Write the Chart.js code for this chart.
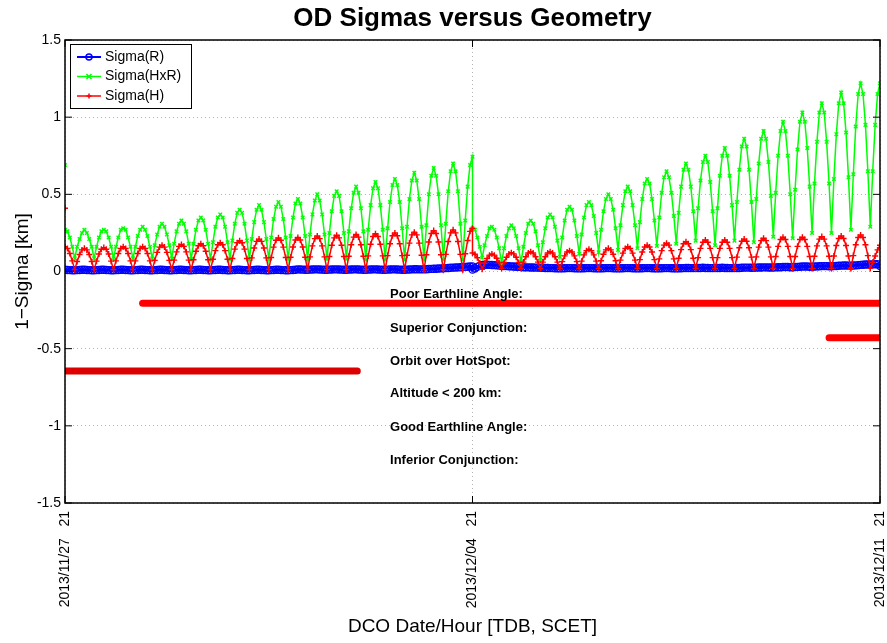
<!DOCTYPE html>
<html>
<head>
<meta charset="utf-8">
<title>OD Sigmas versus Geometry</title>
<script src="https://cdn.jsdelivr.net/npm/chart.js@4.4.1/dist/chart.umd.min.js"></script>
<style>
  html, body { margin: 0; padding: 0; background: #fff; }
  #chart { display: block; }
</style>
</head>
<body>
<canvas id="chart" width="887" height="643"></canvas>
<script>
// hours after 2013/11/27 21:00, hourly samples; t=0 is doubled (isolated first value)
// and so is t=168 (the jump in the middle of the arc)
const hours = [0, 0]
  .concat(Array.from({ length: 169 }, (_, i) => i))
  .concat(Array.from({ length: 169 }, (_, i) => 168 + i));

const xTickHours = [0, 168, 336];
const xTickLabels = ["2013/11/27   21", "2013/12/04   21", "2013/12/11   21"];

// Sigma(HxR) [km], one line per 8 h orbit
const sigmaHxR = [
  0.69, null,
  0.27, 0.26, 0.22, 0.16, 0.085, 0.16, 0.21, 0.25,
  0.27, 0.25, 0.21, 0.16, 0.085, 0.16, 0.22, 0.26,
  0.27, 0.26, 0.22, 0.16, 0.085, 0.16, 0.22, 0.27,
  0.28, 0.27, 0.22, 0.16, 0.085, 0.16, 0.23, 0.27,
  0.29, 0.27, 0.23, 0.16, 0.085, 0.17, 0.24, 0.29,
  0.31, 0.29, 0.24, 0.17, 0.085, 0.18, 0.26, 0.31,
  0.33, 0.31, 0.26, 0.18, 0.08, 0.18, 0.27, 0.33,
  0.35, 0.33, 0.27, 0.18, 0.08, 0.19, 0.29, 0.35,
  0.37, 0.35, 0.29, 0.19, 0.08, 0.2, 0.31, 0.38,
  0.4, 0.38, 0.31, 0.2, 0.08, 0.21, 0.32, 0.4,
  0.43, 0.4, 0.32, 0.21, 0.08, 0.22, 0.34, 0.42,
  0.45, 0.42, 0.34, 0.22, 0.08, 0.23, 0.35, 0.44,
  0.47, 0.44, 0.35, 0.23, 0.08, 0.24, 0.37, 0.46,
  0.5, 0.46, 0.37, 0.24, 0.08, 0.25, 0.39, 0.49,
  0.52, 0.49, 0.39, 0.25, 0.08, 0.26, 0.41, 0.51,
  0.55, 0.51, 0.41, 0.26, 0.075, 0.27, 0.43, 0.54,
  0.58, 0.54, 0.43, 0.27, 0.075, 0.28, 0.45, 0.56,
  0.6, 0.56, 0.45, 0.28, 0.075, 0.29, 0.47, 0.59,
  0.64, 0.59, 0.47, 0.29, 0.075, 0.3, 0.5, 0.62,
  0.67, 0.62, 0.5, 0.3, 0.075, 0.31, 0.52, 0.65,
  0.7, 0.65, 0.52, 0.31, 0.075, 0.33, 0.55, 0.69,
  0.744, 0.28, 0.27, 0.22, 0.16, 0.09, 0.17, 0.23, 0.28,
  0.29, 0.27, 0.22, 0.15, 0.055, 0.15, 0.23, 0.28,
  0.3, 0.28, 0.23, 0.15, 0.06, 0.16, 0.25, 0.31,
  0.33, 0.31, 0.26, 0.17, 0.075, 0.19, 0.28, 0.35,
  0.37, 0.35, 0.29, 0.2, 0.095, 0.22, 0.33, 0.4,
  0.42, 0.4, 0.33, 0.23, 0.115, 0.24, 0.35, 0.43,
  0.45, 0.43, 0.36, 0.25, 0.125, 0.27, 0.39, 0.47,
  0.5, 0.47, 0.4, 0.28, 0.14, 0.3, 0.43, 0.52,
  0.55, 0.52, 0.43, 0.3, 0.15, 0.32, 0.47, 0.57,
  0.6, 0.57, 0.47, 0.33, 0.165, 0.35, 0.51, 0.61,
  0.65, 0.61, 0.51, 0.36, 0.18, 0.38, 0.55, 0.66,
  0.7, 0.66, 0.55, 0.39, 0.2, 0.41, 0.59, 0.71,
  0.75, 0.71, 0.58, 0.39, 0.17, 0.41, 0.62, 0.75,
  0.8, 0.75, 0.62, 0.43, 0.2, 0.45, 0.66, 0.81,
  0.86, 0.81, 0.66, 0.45, 0.19, 0.47, 0.7, 0.86,
  0.91, 0.86, 0.71, 0.49, 0.225, 0.51, 0.75, 0.91,
  0.97, 0.91, 0.75, 0.5, 0.215, 0.53, 0.79, 0.97,
  1.03, 0.97, 0.8, 0.55, 0.25, 0.57, 0.84, 1.03,
  1.09, 1.03, 0.84, 0.57, 0.25, 0.6, 0.89, 1.09,
  1.16, 1.09, 0.9, 0.61, 0.27, 0.63, 0.94, 1.15,
  1.22, 1.15, 0.95, 0.65, 0.29, 0.65, 0.95, 1.15,
  1.22
];

// Sigma(H) [km]
const sigmaH = [
  0.41, null,
  0.16, 0.149, 0.117, 0.069, 0.012, 0.065, 0.11, 0.14,
  0.15, 0.14, 0.11, 0.065, 0.012, 0.067, 0.113, 0.144,
  0.155, 0.144, 0.113, 0.067, 0.012, 0.069, 0.117, 0.149,
  0.16, 0.149, 0.117, 0.069, 0.012, 0.069, 0.117, 0.149,
  0.16, 0.149, 0.117, 0.069, 0.012, 0.072, 0.124, 0.158,
  0.17, 0.158, 0.124, 0.072, 0.012, 0.074, 0.127, 0.163,
  0.175, 0.163, 0.127, 0.074, 0.012, 0.076, 0.131, 0.167,
  0.18, 0.167, 0.131, 0.076, 0.012, 0.079, 0.135, 0.173,
  0.186, 0.173, 0.135, 0.079, 0.012, 0.084, 0.145, 0.186,
  0.2, 0.186, 0.145, 0.084, 0.012, 0.088, 0.152, 0.195,
  0.21, 0.195, 0.152, 0.088, 0.012, 0.091, 0.158, 0.202,
  0.218, 0.202, 0.158, 0.091, 0.012, 0.092, 0.159, 0.204,
  0.22, 0.204, 0.159, 0.092, 0.012, 0.095, 0.166, 0.213,
  0.23, 0.213, 0.166, 0.095, 0.012, 0.097, 0.17, 0.218,
  0.235, 0.218, 0.17, 0.097, 0.012, 0.099, 0.173, 0.223,
  0.24, 0.223, 0.173, 0.099, 0.012, 0.101, 0.177, 0.227,
  0.245, 0.227, 0.177, 0.101, 0.012, 0.103, 0.18, 0.232,
  0.25, 0.232, 0.18, 0.103, 0.012, 0.105, 0.184, 0.237,
  0.255, 0.237, 0.184, 0.105, 0.012, 0.109, 0.191, 0.246,
  0.265, 0.246, 0.191, 0.109, 0.012, 0.111, 0.194, 0.25,
  0.27, 0.25, 0.194, 0.111, 0.012, 0.115, 0.201, 0.26,
  0.28, 0.12, 0.112, 0.089, 0.055, 0.015, 0.053, 0.084, 0.106,
  0.113, 0.106, 0.086, 0.056, 0.02, 0.059, 0.092, 0.114,
  0.122, 0.114, 0.092, 0.059, 0.02, 0.061, 0.096, 0.12,
  0.128, 0.12, 0.096, 0.061, 0.02, 0.061, 0.096, 0.12,
  0.128, 0.12, 0.096, 0.061, 0.02, 0.064, 0.101, 0.126,
  0.135, 0.126, 0.101, 0.064, 0.02, 0.067, 0.108, 0.135,
  0.144, 0.135, 0.108, 0.067, 0.02, 0.07, 0.112, 0.14,
  0.15, 0.14, 0.112, 0.07, 0.02, 0.074, 0.119, 0.149,
  0.16, 0.149, 0.119, 0.074, 0.02, 0.077, 0.126, 0.159,
  0.17, 0.159, 0.126, 0.077, 0.02, 0.082, 0.135, 0.171,
  0.183, 0.171, 0.135, 0.082, 0.02, 0.086, 0.142, 0.18,
  0.193, 0.18, 0.142, 0.086, 0.02, 0.09, 0.15, 0.19,
  0.204, 0.19, 0.15, 0.09, 0.02, 0.09, 0.15, 0.19,
  0.204, 0.19, 0.15, 0.09, 0.02, 0.093, 0.154, 0.196,
  0.21, 0.196, 0.154, 0.093, 0.02, 0.095, 0.158, 0.2,
  0.215, 0.2, 0.158, 0.095, 0.02, 0.097, 0.163, 0.207,
  0.222, 0.207, 0.163, 0.097, 0.02, 0.097, 0.163, 0.207,
  0.222, 0.207, 0.163, 0.097, 0.02, 0.099, 0.166, 0.21,
  0.226, 0.21, 0.166, 0.099, 0.02, 0.1, 0.168, 0.214,
  0.23, 0.214, 0.168, 0.1, 0.02, 0.103, 0.173, 0.22,
  0.237, 0.22, 0.173, 0.103, 0.02, 0.06, 0.1, 0.14,
  0.17
];

// Sigma(R) [km]
const sigmaR = [
  null, null,
  0.011, 0.01, 0.009, 0.008, 0.008, 0.009, 0.01, 0.011,
  0.011, 0.01, 0.009, 0.008, 0.008, 0.009, 0.01, 0.011,
  0.011, 0.01, 0.009, 0.008, 0.008, 0.009, 0.01, 0.011,
  0.011, 0.01, 0.009, 0.008, 0.008, 0.009, 0.01, 0.011,
  0.011, 0.01, 0.009, 0.008, 0.008, 0.009, 0.01, 0.011,
  0.011, 0.01, 0.009, 0.008, 0.008, 0.009, 0.01, 0.011,
  0.011, 0.01, 0.009, 0.008, 0.008, 0.009, 0.01, 0.011,
  0.011, 0.01, 0.009, 0.008, 0.008, 0.009, 0.01, 0.011,
  0.011, 0.01, 0.009, 0.008, 0.008, 0.009, 0.01, 0.011,
  0.011, 0.01, 0.009, 0.008, 0.008, 0.009, 0.01, 0.011,
  0.011, 0.01, 0.009, 0.008, 0.008, 0.009, 0.01, 0.011,
  0.011, 0.01, 0.009, 0.008, 0.008, 0.009, 0.01, 0.011,
  0.014, 0.013, 0.012, 0.011, 0.011, 0.012, 0.013, 0.014,
  0.014, 0.013, 0.012, 0.011, 0.011, 0.012, 0.013, 0.014,
  0.014, 0.013, 0.012, 0.011, 0.011, 0.012, 0.013, 0.014,
  0.014, 0.013, 0.012, 0.011, 0.011, 0.012, 0.013, 0.014,
  0.014, 0.013, 0.012, 0.011, 0.011, 0.012, 0.013, 0.014,
  0.014, 0.013, 0.012, 0.011, 0.011, 0.012, 0.013, 0.014,
  0.015, 0.015, 0.014, 0.014, 0.014, 0.015, 0.016, 0.017,
  0.018, 0.018, 0.019, 0.02, 0.021, 0.022, 0.023, 0.024,
  0.025, 0.026, 0.027, 0.028, 0.029, 0.03, 0.031, 0.032,
  0.033, 0.012, 0.02, 0.03, 0.038, 0.042, 0.044, 0.044, 0.043,
  0.042, 0.041, 0.04, 0.038, 0.037, 0.036, 0.035, 0.034,
  0.033, 0.032, 0.031, 0.03, 0.029, 0.028, 0.027, 0.027,
  0.026, 0.026, 0.025, 0.025, 0.024, 0.024, 0.023, 0.023,
  0.022, 0.022, 0.021, 0.021, 0.02, 0.021, 0.021, 0.022,
  0.022, 0.022, 0.021, 0.021, 0.02, 0.021, 0.021, 0.022,
  0.022, 0.022, 0.021, 0.021, 0.02, 0.021, 0.021, 0.022,
  0.022, 0.022, 0.021, 0.021, 0.02, 0.021, 0.021, 0.022,
  0.022, 0.022, 0.021, 0.021, 0.02, 0.021, 0.021, 0.022,
  0.022, 0.022, 0.021, 0.021, 0.02, 0.021, 0.021, 0.022,
  0.022, 0.022, 0.021, 0.021, 0.02, 0.021, 0.021, 0.022,
  0.023, 0.023, 0.022, 0.022, 0.022, 0.023, 0.023, 0.024,
  0.023, 0.023, 0.022, 0.022, 0.022, 0.023, 0.023, 0.024,
  0.023, 0.023, 0.022, 0.022, 0.022, 0.023, 0.023, 0.024,
  0.025, 0.025, 0.025, 0.024, 0.024, 0.025, 0.026, 0.026,
  0.027, 0.027, 0.026, 0.026, 0.026, 0.027, 0.028, 0.028,
  0.029, 0.029, 0.029, 0.028, 0.028, 0.029, 0.03, 0.031,
  0.032, 0.032, 0.032, 0.031, 0.031, 0.032, 0.033, 0.034,
  0.035, 0.035, 0.035, 0.034, 0.034, 0.035, 0.036, 0.037,
  0.038, 0.039, 0.039, 0.038, 0.038, 0.039, 0.04, 0.041,
  0.043, 0.044, 0.045, 0.045, 0.045, 0.046, 0.047, 0.047,
  0.035
];

// geometry flags drawn as thick bars (hours, km level)
const barStart = [32, 315, 0];
const barEnd = [336, 336, 120.5];
const barLevel = [-0.205, -0.43, -0.645];
const barColor = ["#ff0000", "#ff0000", "#dd0000"];

const eventLabels = [
  "Poor Earthline Angle:",
  "Superior Conjunction:",
  "Orbit over HotSpot:",
  "Altitude < 200 km:",
  "Good Earthline Angle:",
  "Inferior Conjunction:"
];
const eventLabelLevel = [-0.146, -0.366, -0.58, -0.787, -1.008, -1.222];
const eventLabelHour = 134;

const legendNames = ["Sigma(R)", "Sigma(HxR)", "Sigma(H)"];

Chart.defaults.font.family = '"Liberation Sans", Arial, Helvetica, sans-serif';
Chart.defaults.color = "#000";

function toPoints(values) {
  return values.map((v, i) => ({ x: hours[i], y: v }));
}

const seriesStyle = [
  { data: sigmaR, color: "#0000ff", width: 3, point: "circle", radius: 3.5, order: 2 },
  { data: sigmaHxR, color: "#00ff00", width: 1.5, point: "crossRot", radius: 2.5, order: 1 },
  { data: sigmaH, color: "#ff0000", width: 1.5, point: "cross", radius: 3, order: 0 }
];

const datasets = seriesStyle.map((s, i) => ({
  label: legendNames[i],
  data: toPoints(s.data),
  borderColor: s.color,
  borderWidth: s.width,
  pointStyle: s.point,
  pointRadius: s.radius,
  pointBorderColor: s.color,
  pointBackgroundColor: "rgba(0,0,0,0)",
  pointBorderWidth: 1.4,
  order: s.order
}));

barLevel.forEach((lvl, i) => {
  datasets.push({
    label: "bar" + i,
    data: [{ x: barStart[i], y: lvl }, { x: barEnd[i], y: lvl }],
    borderColor: barColor[i],
    borderWidth: 7,
    borderCapStyle: "round",
    pointRadius: 0,
    order: 3
  });
});

function drawMarker(ctx, style, x, y, r) {
  ctx.beginPath();
  if (style === "circle") {
    ctx.arc(x, y, r, 0, Math.PI * 2);
  } else if (style === "cross") {
    ctx.moveTo(x - r, y); ctx.lineTo(x + r, y);
    ctx.moveTo(x, y - r); ctx.lineTo(x, y + r);
  } else {
    ctx.moveTo(x - r, y - r); ctx.lineTo(x + r, y + r);
    ctx.moveTo(x - r, y + r); ctx.lineTo(x + r, y - r);
  }
  ctx.stroke();
}

const matlabFrame = {
  id: "matlabFrame",
  afterDraw(chart) {
    const { ctx, chartArea: a, scales } = chart;
    const xs = scales.x, ys = scales.y;
    ctx.save();

    // title
    ctx.fillStyle = "#000";
    ctx.font = 'bold 26px "Liberation Sans", Arial, sans-serif';
    ctx.textAlign = "center";
    ctx.textBaseline = "middle";
    ctx.fillText("OD Sigmas versus Geometry", (a.left + a.right) / 2, 19);

    // box and inward ticks
    ctx.strokeStyle = "#000";
    ctx.lineWidth = 1.5;
    ctx.strokeRect(a.left, a.top, a.right - a.left, a.bottom - a.top);
    ctx.lineWidth = 1;
    ctx.beginPath();
    ys.ticks.forEach((t) => {
      const py = ys.getPixelForValue(t.value);
      ctx.moveTo(a.left, py); ctx.lineTo(a.left + 7, py);
      ctx.moveTo(a.right, py); ctx.lineTo(a.right - 7, py);
    });
    xs.ticks.forEach((t) => {
      const px = xs.getPixelForValue(t.value);
      ctx.moveTo(px, a.bottom); ctx.lineTo(px, a.bottom - 7);
      ctx.moveTo(px, a.top); ctx.lineTo(px, a.top + 7);
    });
    ctx.stroke();

    // event labels
    ctx.font = 'bold 13px "Liberation Sans", Arial, sans-serif';
    ctx.textAlign = "left";
    ctx.textBaseline = "middle";
    const lx = xs.getPixelForValue(eventLabelHour);
    eventLabels.forEach((txt, i) => {
      ctx.fillText(txt, lx, ys.getPixelForValue(eventLabelLevel[i]));
    });

    // legend box
    const bx = a.left + 5, by = a.top + 4, bw = 121, bh = 64;
    ctx.fillStyle = "#fff";
    ctx.fillRect(bx, by, bw, bh);
    ctx.strokeStyle = "#000";
    ctx.lineWidth = 1;
    ctx.strokeRect(bx + 0.5, by + 0.5, bw, bh);
    ctx.font = '14px "Liberation Sans", Arial, sans-serif';
    seriesStyle.forEach((s, i) => {
      const ly = by + 13 + i * 19.5;
      ctx.strokeStyle = s.color;
      ctx.lineWidth = Math.min(s.width, 2);
      ctx.beginPath();
      ctx.moveTo(bx + 7, ly); ctx.lineTo(bx + 31, ly);
      ctx.stroke();
      ctx.lineWidth = 1.5;
      drawMarker(ctx, s.point, bx + 19, ly, s.point === "circle" ? 3 : 2.5);
      ctx.fillStyle = "#000";
      ctx.fillText(legendNames[i], bx + 35, ly);
    });
    ctx.restore();
  }
};

new Chart(document.getElementById("chart"), {
  type: "line",
  data: { datasets },
  plugins: [matlabFrame],
  options: {
    responsive: false,
    animation: false,
    layout: { padding: { top: 40, right: 7, left: 0, bottom: 0 } },
    plugins: {
      legend: { display: false },
      tooltip: { enabled: false },
      title: { display: false }
    },
    scales: {
      x: {
        type: "linear",
        min: 0,
        max: 336,
        afterBuildTicks: (s) => { s.ticks = xTickHours.map((v) => ({ value: v })); },
        afterFit: (s) => { s.height = 140; s.paddingLeft = 0; s.paddingRight = 0; },
        ticks: {
          autoSkip: false,
          minRotation: 90,
          maxRotation: 90,
          padding: 8,
          font: { size: 14 },
          callback: (v) => xTickLabels[xTickHours.indexOf(v)]
        },
        grid: { color: "#b4b4b4", drawTicks: false },
        border: { display: false, dash: [1, 3] },
        title: {
          display: true,
          text: "DCO Date/Hour [TDB, SCET]",
          font: { size: 19 },
          padding: { top: 0, bottom: 5 }
        }
      },
      y: {
        min: -1.5,
        max: 1.5,
        afterFit: (s) => { s.width = 65; },
        ticks: {
          stepSize: 0.5,
          padding: 4,
          font: { size: 14 },
          callback: (v) => String(Number(v.toFixed(2)))
        },
        grid: { color: "#b4b4b4", drawTicks: false },
        border: { display: false, dash: [1, 3] },
        title: {
          display: true,
          text: "1\u2212Sigma [km]",
          font: { size: 19 },
          padding: { top: 11, bottom: 0 }
        }
      }
    }
  }
});
</script>
</body>
</html>
